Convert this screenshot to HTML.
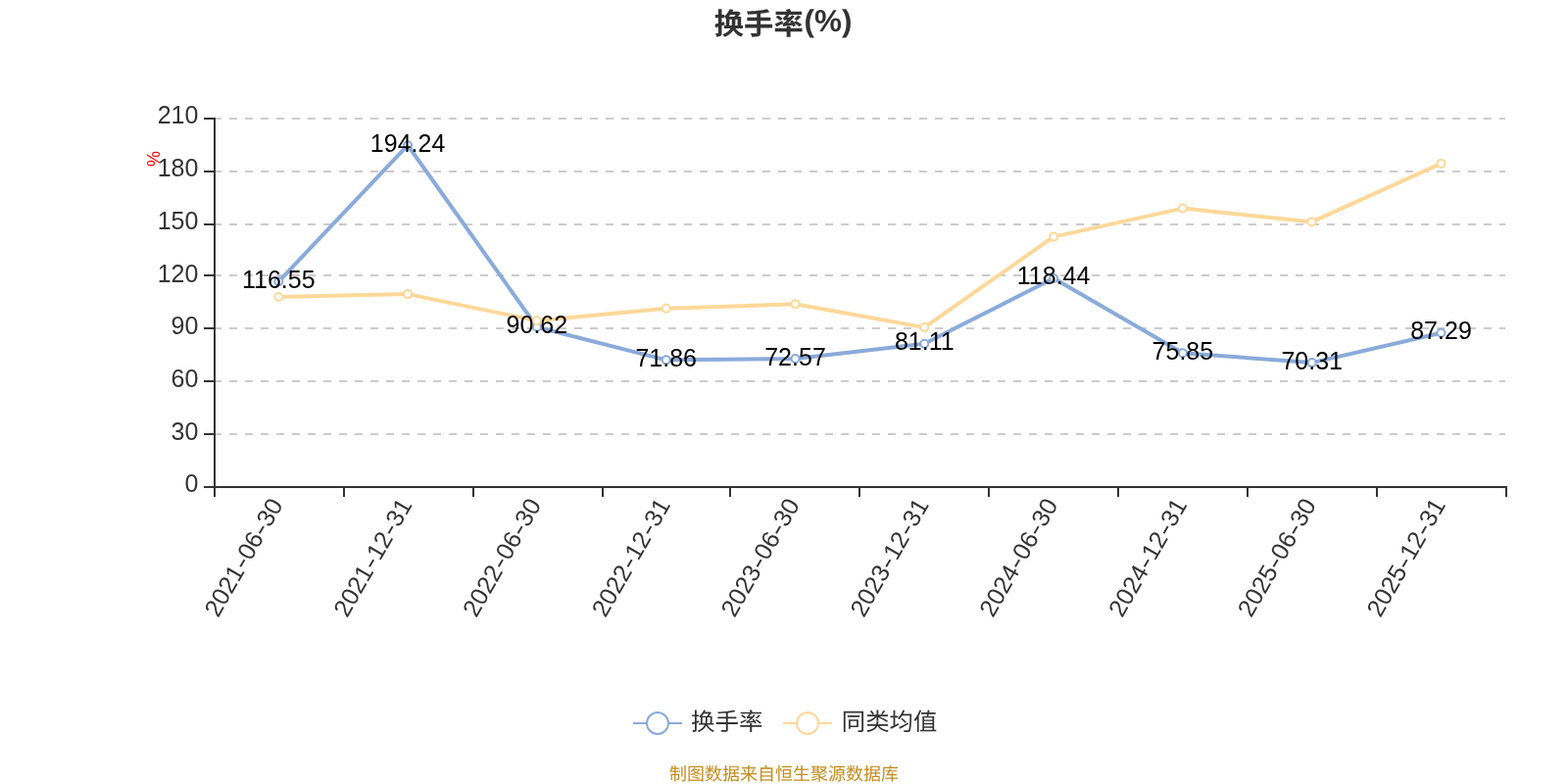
<!DOCTYPE html>
<html lang="zh-CN">
<head>
<meta charset="utf-8">
<title>换手率(%)</title>
<style>
html,body{margin:0;padding:0;background:#fff;}
body{width:1600px;height:800px;overflow:hidden;}
svg{display:block;}
text{font-family:"Liberation Sans","Noto Sans CJK SC",sans-serif;}
.cjk{font-family:"Noto Sans CJK SC","Liberation Sans",sans-serif;}
</style>
</head>
<body>
<svg width="1600" height="800" viewBox="0 0 1600 800">
<rect x="0" y="0" width="1600" height="800" fill="#fff"/>
<text x="728.8" y="34.5" style="text-rendering:geometricPrecision" font-weight="bold" fill="#333"><tspan class="cjk" font-size="30.3">换手率</tspan><tspan x="820.4" dy="-2.3" font-size="31.5">(%)</tspan></text>
<g stroke="#ccc" stroke-width="2" stroke-dasharray="8 8" fill="none">
<line x1="218" y1="443" x2="1536" y2="443"/>
<line x1="218" y1="389" x2="1536" y2="389"/>
<line x1="218" y1="335" x2="1536" y2="335"/>
<line x1="218" y1="281" x2="1536" y2="281"/>
<line x1="218" y1="229" x2="1536" y2="229"/>
<line x1="218" y1="175" x2="1536" y2="175"/>
<line x1="218" y1="121" x2="1536" y2="121"/>
</g>
<g stroke="#333" stroke-width="2" fill="none">
<line x1="219" y1="120" x2="219" y2="498"/>
<line x1="218" y1="497" x2="1538" y2="497"/>
<line x1="208" y1="497" x2="219" y2="497"/>
<line x1="208" y1="443" x2="219" y2="443"/>
<line x1="208" y1="389" x2="219" y2="389"/>
<line x1="208" y1="335" x2="219" y2="335"/>
<line x1="208" y1="281" x2="219" y2="281"/>
<line x1="208" y1="229" x2="219" y2="229"/>
<line x1="208" y1="175" x2="219" y2="175"/>
<line x1="208" y1="121" x2="219" y2="121"/>
<line x1="219" y1="497" x2="219" y2="507"/>
<line x1="351" y1="497" x2="351" y2="507"/>
<line x1="483" y1="497" x2="483" y2="507"/>
<line x1="615" y1="497" x2="615" y2="507"/>
<line x1="745" y1="497" x2="745" y2="507"/>
<line x1="877" y1="497" x2="877" y2="507"/>
<line x1="1009" y1="497" x2="1009" y2="507"/>
<line x1="1141" y1="497" x2="1141" y2="507"/>
<line x1="1273" y1="497" x2="1273" y2="507"/>
<line x1="1405" y1="497" x2="1405" y2="507"/>
<line x1="1537" y1="497" x2="1537" y2="507"/>
</g>
<g font-size="25" fill="#333" text-anchor="end">
<text x="202.4" y="502">0</text>
<text x="202.4" y="449">30</text>
<text x="202.4" y="395">60</text>
<text x="202.4" y="341">90</text>
<text x="202.4" y="288">120</text>
<text x="202.4" y="234">150</text>
<text x="202.4" y="180">180</text>
<text x="202.4" y="126">210</text>
</g>
<text transform="translate(162.6,162) rotate(-90)" text-anchor="middle" font-size="18" fill="#f00">%</text>
<g font-size="25" fill="#333" text-anchor="end">
<text transform="translate(289.40,515) rotate(-60)">2021<tspan textLength="11.4" lengthAdjust="spacingAndGlyphs">-</tspan>06<tspan textLength="11.4" lengthAdjust="spacingAndGlyphs">-</tspan>30</text>
<text transform="translate(421.20,515) rotate(-60)">2021<tspan textLength="11.4" lengthAdjust="spacingAndGlyphs">-</tspan>12<tspan textLength="11.4" lengthAdjust="spacingAndGlyphs">-</tspan>31</text>
<text transform="translate(553.00,515) rotate(-60)">2022<tspan textLength="11.4" lengthAdjust="spacingAndGlyphs">-</tspan>06<tspan textLength="11.4" lengthAdjust="spacingAndGlyphs">-</tspan>30</text>
<text transform="translate(684.80,515) rotate(-60)">2022<tspan textLength="11.4" lengthAdjust="spacingAndGlyphs">-</tspan>12<tspan textLength="11.4" lengthAdjust="spacingAndGlyphs">-</tspan>31</text>
<text transform="translate(816.60,515) rotate(-60)">2023<tspan textLength="11.4" lengthAdjust="spacingAndGlyphs">-</tspan>06<tspan textLength="11.4" lengthAdjust="spacingAndGlyphs">-</tspan>30</text>
<text transform="translate(948.40,515) rotate(-60)">2023<tspan textLength="11.4" lengthAdjust="spacingAndGlyphs">-</tspan>12<tspan textLength="11.4" lengthAdjust="spacingAndGlyphs">-</tspan>31</text>
<text transform="translate(1080.20,515) rotate(-60)">2024<tspan textLength="11.4" lengthAdjust="spacingAndGlyphs">-</tspan>06<tspan textLength="11.4" lengthAdjust="spacingAndGlyphs">-</tspan>30</text>
<text transform="translate(1212.00,515) rotate(-60)">2024<tspan textLength="11.4" lengthAdjust="spacingAndGlyphs">-</tspan>12<tspan textLength="11.4" lengthAdjust="spacingAndGlyphs">-</tspan>31</text>
<text transform="translate(1343.80,515) rotate(-60)">2025<tspan textLength="11.4" lengthAdjust="spacingAndGlyphs">-</tspan>06<tspan textLength="11.4" lengthAdjust="spacingAndGlyphs">-</tspan>30</text>
<text transform="translate(1475.60,515) rotate(-60)">2025<tspan textLength="11.4" lengthAdjust="spacingAndGlyphs">-</tspan>12<tspan textLength="11.4" lengthAdjust="spacingAndGlyphs">-</tspan>31</text>
</g>
<polyline points="284.30,287.32 416.10,148.22 547.90,333.75 679.70,367.34 811.50,366.07 943.30,350.77 1075.10,283.94 1206.90,360.19 1338.70,370.11 1470.50,339.71" fill="none" stroke="#8aabda" stroke-width="4" stroke-linejoin="bevel"/>
<polyline points="284.30,303.00 416.10,300.10 547.90,327.25 679.70,314.80 811.50,310.30 943.30,334.10 1075.10,241.60 1206.90,212.60 1338.70,226.40 1470.50,166.90" fill="none" stroke="#fdd899" stroke-width="4" stroke-linejoin="bevel"/>
<g fill="#fff" stroke="#8aabda" stroke-width="2">
<circle cx="284.30" cy="287.32" r="4"/>
<circle cx="416.10" cy="148.22" r="4"/>
<circle cx="547.90" cy="333.75" r="4"/>
<circle cx="679.70" cy="367.34" r="4"/>
<circle cx="811.50" cy="366.07" r="4"/>
<circle cx="943.30" cy="350.77" r="4"/>
<circle cx="1075.10" cy="283.94" r="4"/>
<circle cx="1206.90" cy="360.19" r="4"/>
<circle cx="1338.70" cy="370.11" r="4"/>
<circle cx="1470.50" cy="339.71" r="4"/>
</g>
<g fill="#fff" stroke="#fdd899" stroke-width="2">
<circle cx="284.30" cy="303.00" r="4"/>
<circle cx="416.10" cy="300.10" r="4"/>
<circle cx="547.90" cy="327.25" r="4"/>
<circle cx="679.70" cy="314.80" r="4"/>
<circle cx="811.50" cy="310.30" r="4"/>
<circle cx="943.30" cy="334.10" r="4"/>
<circle cx="1075.10" cy="241.60" r="4"/>
<circle cx="1206.90" cy="212.60" r="4"/>
<circle cx="1338.70" cy="226.40" r="4"/>
<circle cx="1470.50" cy="166.90" r="4"/>
</g>
<g font-size="25" fill="#000" text-anchor="middle">
<text x="284.30" y="293.82">116.55</text>
<text x="416.10" y="154.72">194.24</text>
<text x="547.90" y="340.25">90.62</text>
<text x="679.70" y="373.84">71.86</text>
<text x="811.50" y="372.57">72.57</text>
<text x="943.30" y="357.27">81.11</text>
<text x="1075.10" y="290.44">118.44</text>
<text x="1206.90" y="366.69">75.85</text>
<text x="1338.70" y="376.61">70.31</text>
<text x="1470.50" y="346.21">87.29</text>
</g>
<line x1="646" y1="738" x2="696" y2="738" stroke="#8aabda" stroke-width="2"/>
<circle cx="671" cy="738" r="11" fill="#fff" stroke="#8aabda" stroke-width="2"/>
<text class="cjk" x="705" y="744.6" style="text-rendering:geometricPrecision" font-size="24.5" fill="#333">换手率</text>
<line x1="799" y1="738" x2="849" y2="738" stroke="#fdd899" stroke-width="2"/>
<circle cx="824" cy="738" r="11" fill="#fff" stroke="#fdd899" stroke-width="2"/>
<text class="cjk" x="858.8" y="744.6" style="text-rendering:geometricPrecision" font-size="24.4" fill="#333">同类均值</text>
<text class="cjk" x="800" y="796.4" style="text-rendering:geometricPrecision" text-anchor="middle" font-size="18" fill="#c38d1e">制图数据来自恒生聚源数据库</text>
</svg>
</body>
</html>
